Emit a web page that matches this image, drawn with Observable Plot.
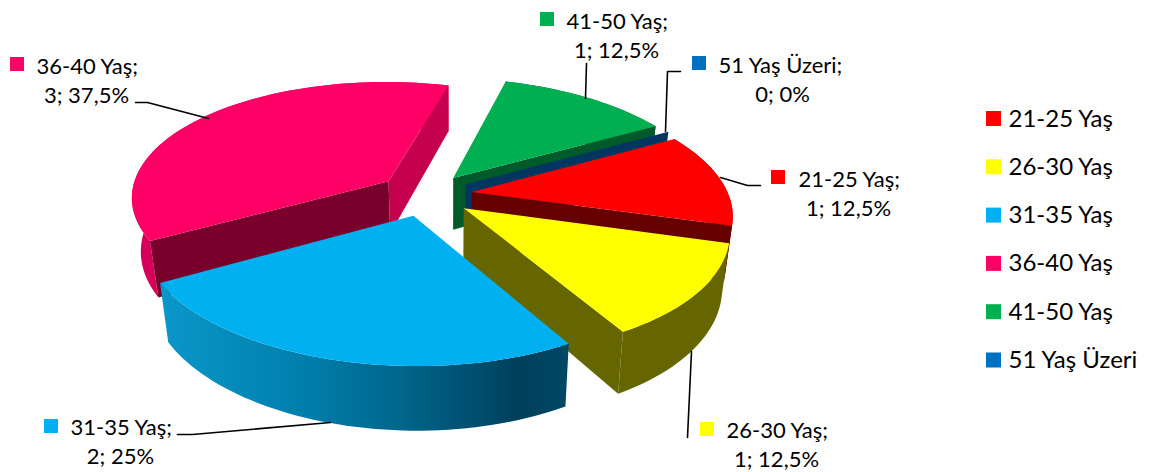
<!DOCTYPE html>
<html><head><meta charset="utf-8">
<style>html,body{margin:0;padding:0;background:#fff}svg{display:block}</style>
<script src="https://cdn.jsdelivr.net/npm/d3@7"></script>
<script src="https://cdn.jsdelivr.net/npm/@observablehq/plot@0.6"></script>
</head><body><div id="chart"></div>
<script>
const categories = ["21-25 Yaş","26-30 Yaş","31-35 Yaş","36-40 Yaş","41-50 Yaş","51 Yaş Üzeri"];
const counts = [1,1,2,3,1,0];
const percents = ["12,5%","12,5%","25%","37,5%","12,5%","0%"];
const topColors = ["#ff0000","#ffff00","#00b0f0","#ff0066","#00b050","#0070c0"];
const wallStartColors = ["#660000","#666600","#00688f","#7a002c","#005a29","#003660"];
const wallEndColors = ["#660000","#666600","#00688f","#c4004f","#005a29","#003660"];
const rimColors = ["#8a0000","#666600","url(#blueRim)","#d6005c","#005a29","#003660"];
const radiusFit = [.99,.99,1,.98,1,1];
const drawOrder = [3,4,5,0,1,2];

// projection of the tilted pie
const P = {cx:425,cy:194,a:225.3,b:-58.2,c:132.6,d:105,p:.08,q:-.13,explode:.18,depth:53,vx:450,vs:.972};
function proj(u,v,bottom){
  const w = 1+P.p*u+P.q*v;
  let x = P.cx+(P.a*u+P.c*v)/w, y = P.cy+(P.b*u+P.d*v)/w;
  if(bottom){ x = P.vx+P.vs*(x-P.vx); y += P.depth/w; }
  return {x,y};
}
const total = d3.sum(counts);
let acc = 0;
const slices = counts.map((n,i)=>{
  const t0 = acc/total*2*Math.PI; acc += n; const t1 = acc/total*2*Math.PI;
  const m = (t0+t1)/2;
  const ou = n? P.explode*Math.cos(m):P.explode, ov = n? P.explode*Math.sin(m):0;
  return {i,t0,t1,ou,ov,r:radiusFit[i]};
});
const rimPoint = (s,t,bottom)=>proj(s.ou+s.r*Math.cos(t),s.ov+s.r*Math.sin(t),bottom);
function arc(s,bottom){
  const k = Math.max(1,Math.ceil((s.t1-s.t0)/0.03));
  return d3.range(k+1).map(j=>rimPoint(s,s.t0+(s.t1-s.t0)*j/k,bottom));
}
function wall(s,t){
  return [proj(s.ou,s.ov,false),rimPoint(s,t,false),rimPoint(s,t,true),proj(s.ou,s.ov,true)];
}
// a side wall shows only when the slice's top lies above its edge on screen
function wallVisible(s,t){
  if(s.t1===s.t0) return true;
  const tip = proj(s.ou,s.ov,false), r = rimPoint(s,t,false);
  const m = (s.t0+s.t1)/2, mid = proj(s.ou+.5*Math.cos(m),s.ov+.5*Math.sin(m),false);
  const yOnEdge = tip.y+(r.y-tip.y)*(mid.x-tip.x)/(r.x-tip.x);
  return mid.y<yOnEdge;
}
const face = (pts,fill)=>Plot.line(pts,{x:"x",y:"y",fill,stroke:"none",curve:"linear"});
const pieMarks = drawOrder.flatMap(i=>{
  const s = slices[i], out = [];
  if(s.t1>s.t0) out.push(face([...arc(s,false),...arc(s,true).reverse()],rimColors[i]));
  if(wallVisible(s,s.t0)) out.push(face(wall(s,s.t0),wallStartColors[i]));
  if(s.t1>s.t0 && wallVisible(s,s.t1)) out.push(face(wall(s,s.t1),wallEndColors[i]));
  if(s.t1>s.t0) out.push(face([proj(s.ou,s.ov,false),...arc(s,false)],topColors[i]));
  return out;
});

// data labels (layout only)
const labelAt = [
  {sw:[771,170],x:798,y:186,cx:848},
  {sw:[700,422],x:726,y:437,cx:776},
  {sw:[44,419],x:70,y:434,cx:120},
  {sw:[10,57],x:36,y:73,cx:86},
  {sw:[540,12],x:566,y:28,cx:616},
  {sw:[692,56],x:718,y:72,cx:782}
];
const leaders = [
  [[720,177],[747,185],[760,185]],
  [[691,351],[687,437]],
  [[177,434],[192,434],[330,422]],
  [[135,102],[147,102],[208,118]],
  [[586,63],[585,98]],
  [[680,71],[667,71],[665,131]]
];
const font = "Lato, Carlito, sans-serif";
const labelFirst = categories.map((c,i)=>({t:c+";",x:labelAt[i].x,y:labelAt[i].y}));
const labelSecond = categories.map((c,i)=>({t:counts[i]+"; "+percents[i],x:labelAt[i].cx,y:labelAt[i].y+29}));
const swatches = categories.map((c,i)=>({x1:labelAt[i].sw[0],x2:labelAt[i].sw[0]+14,y1:labelAt[i].sw[1],y2:labelAt[i].sw[1]+14,fill:topColors[i]}));
const legendTop = 111, legendStep = 48.3;
const legend = categories.map((c,i)=>({t:c,y:legendTop+legendStep*i,fill:topColors[i]}));

const plot = Plot.plot({
  width:1150,height:472,margin:0,
  x:{domain:[0,1150],range:[0,1150],axis:null},
  y:{domain:[0,472],range:[0,472],axis:null},
  style:{background:"#fff",fontFamily:font},
  marks:[
    ()=>{
      const ns="http://www.w3.org/2000/svg";
      const defs=document.createElementNS(ns,"defs");
      const g=document.createElementNS(ns,"linearGradient");
      g.setAttribute("id","blueRim");g.setAttribute("gradientUnits","userSpaceOnUse");
      g.setAttribute("x1",161);g.setAttribute("x2",567);g.setAttribute("y1",0);g.setAttribute("y2",0);
      [[0,"#0a97ca"],[.35,"#007fac"],[.6,"#00658a"],[.88,"#00405c"],[1,"#004865"]].forEach(([o,c])=>{
        const st=document.createElementNS(ns,"stop");st.setAttribute("offset",o);st.setAttribute("stop-color",c);g.appendChild(st);
      });
      defs.appendChild(g);return defs;
    },
    ...pieMarks,
    ...leaders.map(l=>Plot.line(l,{x:d=>d[0],y:d=>d[1],stroke:"#000",strokeWidth:1.6,curve:"linear"})),
    ...swatches.map(s=>Plot.rect([s],{x1:"x1",x2:"x2",y1:"y1",y2:"y2",fill:s.fill,inset:0})),
    Plot.text(labelFirst,{x:"x",y:"y",text:"t",textAnchor:"start",lineAnchor:"bottom",fontSize:22,fill:"#000"}),
    Plot.text(labelSecond,{x:"x",y:"y",text:"t",textAnchor:"middle",lineAnchor:"bottom",fontSize:22,fill:"#000"}),
    ...legend.map(l=>Plot.rect([l],{x1:()=>986,x2:()=>1001,y1:d=>d.y,y2:d=>d.y+15,fill:l.fill})),
    Plot.text(legend,{x:()=>1008,y:d=>d.y+15,text:"t",textAnchor:"start",lineAnchor:"bottom",fontSize:24,fill:"#000"})
  ]
});
document.getElementById("chart").appendChild(plot);
</script></body></html>
